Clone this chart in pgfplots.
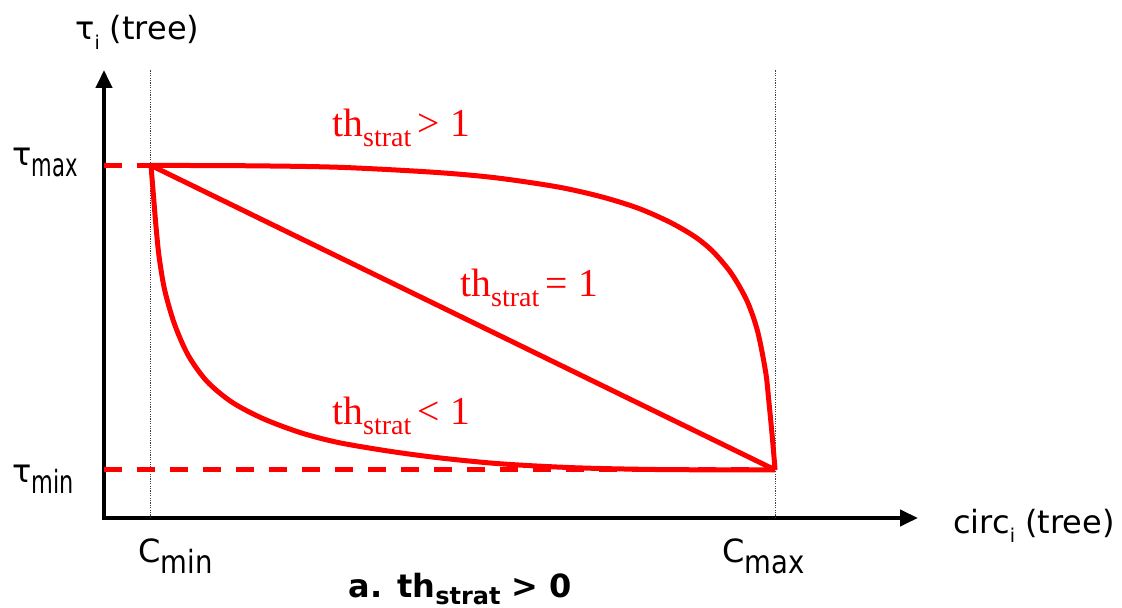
\documentclass[border=0pt]{standalone}
\usepackage{graphicx}
\usepackage{pgfplots}
\pgfplotsset{compat=1.18}
\usetikzlibrary{arrows.meta}
\usepackage{fontspec}
\setmainfont{DejaVu Sans}
\newfontfamily\serifred{Liberation Serif}
\definecolor{pred}{RGB}{255,0,0}
\newcommand{\lab}{\fontsize{16}{19}\selectfont}
\newcommand{\lsub}[2]{\raisebox{-0.34em}{\scalebox{#1}[1]{#2}}}
\newcommand{\ssub}[1]{\raisebox{-0.3em}{\fontsize{9.5}{11}\selectfont #1}}
\newcommand{\thlab}[1]{{\serifred\fontsize{19.8}{22}\selectfont th\raisebox{-5pt}{\fontsize{14}{16}\selectfont strat}\,#1}}
\begin{document}
\begin{tikzpicture}
\path (-52pt,-45pt) rectangle (509pt,259pt);
\begin{axis}[
  scale only axis,
  width=407pt, height=224pt,
  xmin=-0.0753, xmax=1.229,
  ymin=-0.158, ymax=1.3135,
  axis lines=left,
  axis line style={line width=2.2pt, black, line cap=rect, -{Triangle[length=9pt,width=8pt]}},
  xtick=\empty, ytick=\empty,
  clip=false,
]
% dotted guides
\addplot[gray!50!black, line width=0.5pt, dash pattern=on 0.6pt off 0.6pt] coordinates {(0,-0.158) (0,1.3135)};
\addplot[gray!50!black, line width=0.5pt, dash pattern=on 0.6pt off 0.6pt] coordinates {(1,-0.158) (1,1.3135)};
% dashed reference levels
\addplot[pred, line width=2.5pt, dash pattern=on 9pt off 7.5pt] coordinates {(-0.0753,1) (0,1)};
\addplot[pred, line width=2.5pt, dash pattern=on 9pt off 7.5pt] coordinates {(-0.0753,0) (1,0)};
% th = 1
\addplot[pred, line width=2.5pt] coordinates {(0,1) (1,0)};
% th > 1
\addplot[pred, line width=2.5pt, smooth, tension=0.5] coordinates {
(0,1) (0.15,0.999) (0.30,0.994) (0.45,0.978) (0.55,0.960) (0.65,0.930)
(0.72,0.898) (0.78,0.860) (0.83,0.815) (0.87,0.768) (0.90,0.718)
(0.93,0.645) (0.955,0.555) (0.972,0.455) (0.985,0.32) (0.990,0.225)
(0.995,0.12) (1,0)};
% th < 1
\addplot[pred, line width=2.5pt, smooth, tension=0.5] coordinates {
(0,1) (0.004,0.90) (0.008,0.80) (0.013,0.70) (0.022,0.59) (0.038,0.477)
(0.06,0.375) (0.09,0.29) (0.13,0.222) (0.18,0.168) (0.24,0.122)
(0.30,0.09) (0.38,0.062) (0.46,0.04) (0.56,0.02) (0.68,0.007)
(0.82,0.001) (1,0)};
% labels
\node[anchor=base west, inner sep=0pt] at (axis cs:-0.122,1.413) {\lab τ\ssub{i} (tree)};
\node[anchor=base west, inner sep=0pt] at (axis cs:-0.223,1.0) {\lab τ\lsub{0.66}{max}};
\node[anchor=base west, inner sep=0pt] at (axis cs:-0.223,-0.043) {\lab τ\lsub{0.7}{min}};
\node[anchor=base west, inner sep=0pt] at (axis cs:-0.021,-0.304) {\lab C\lsub{0.86}{min}};
\node[anchor=base west, inner sep=0pt] at (axis cs:0.915,-0.304) {\lab C\lsub{0.86}{max}};
\node[anchor=base west, inner sep=0pt] at (axis cs:1.285,-0.208) {\lab circ\ssub{i} (tree)};
\node[anchor=base west, inner sep=0pt, text=pred] at (axis cs:0.290,1.096) {\thlab{> 1}};
\node[anchor=base west, inner sep=0pt, text=pred] at (axis cs:0.495,0.568) {\thlab{= 1}};
\node[anchor=base west, inner sep=0pt, text=pred] at (axis cs:0.290,0.149) {\thlab{< 1}};
\node[anchor=base west, inner sep=0pt] at (axis cs:0.316,-0.419) {\fontsize{16}{19}\selectfont\bfseries a. th\raisebox{-3.5pt}{\fontsize{12}{14}\selectfont strat} > 0};
\end{axis}
\end{tikzpicture}
\end{document}
